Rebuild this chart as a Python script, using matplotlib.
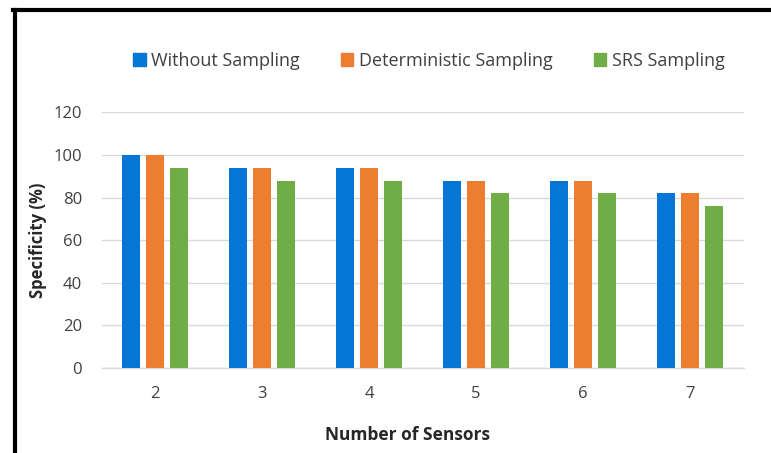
import matplotlib
matplotlib.use("Agg")
import matplotlib.pyplot as plt
from matplotlib.lines import Line2D
import numpy as np

categories = ["2", "3", "4", "5", "6", "7"]
without_sampling = [100, 94, 94, 88, 88, 82]
deterministic_sampling = [100, 94, 94, 88, 88, 82]
srs_sampling = [94, 88, 88, 82, 82, 76]
series_names = ["Without Sampling", "Deterministic Sampling", "SRS Sampling"]
colors = ["#0676d6", "#ed7d31", "#70ad47"]
yticks = [0, 20, 40, 60, 80, 100, 120]

plt.rcParams['font.family'] = ['Open Sans', 'DejaVu Sans']
W, H = 771, 453
fig = plt.figure(figsize=(W / 100, H / 100), dpi=100)
ax = fig.add_axes([101.5 / W, (H - 368) / H, (743.5 - 101.5) / W, (368 - 112.4) / H])

x = np.arange(len(categories))
width = 0.175
off = 0.224
series = [without_sampling, deterministic_sampling, srs_sampling]
for i, (vals, name, c) in enumerate(zip(series, series_names, colors)):
    ax.bar(x + (i - 1) * off, vals, width, color=c, label=name, zorder=3)

ax.set_xlim(-0.5, len(categories) - 0.5)
ax.set_ylim(0, 120)
ax.set_yticks(yticks)
ax.set_xticks(x)
ax.set_xticklabels(categories)
ax.grid(axis='y', color='#d9d9d9', linewidth=1, zorder=0)
for s in ['top', 'right', 'left']:
    ax.spines[s].set_visible(False)
ax.spines['bottom'].set_color('#d9d9d9')
ax.spines['bottom'].set_linewidth(1)
ax.tick_params(axis='both', length=0, labelsize=12, labelcolor='#404040')
ax.tick_params(axis='x', pad=13)
ax.tick_params(axis='y', pad=14)

ax.set_ylabel("Specificity (%)", fontsize=12, fontweight='bold', color='#262626', labelpad=4.5)
ax.set_xlabel("Number of Sensors", fontsize=12.5, fontweight='bold', color='#262626', labelpad=17.5)
ax.xaxis.label.set_x(0.4774)

handles = [plt.Rectangle((0, 0), 1, 1, color=c) for c in colors]
fig.legend(handles, series_names, loc='center', bbox_to_anchor=(429 / W, 1 - 61 / H),
           ncol=3, frameon=False, fontsize=13, handlelength=0.68, handleheight=0.68,
           handletextpad=0.3, columnspacing=2.3, labelcolor='#404040')

# outer frame (left and top edges)
fig.add_artist(Line2D([14.5 / W, 14.5 / W], [0, 1 - 10 / H], transform=fig.transFigure,
                      color='black', linewidth=3.0))
fig.add_artist(Line2D([13 / W, 1], [1 - 10 / H, 1 - 10 / H], transform=fig.transFigure,
                      color='black', linewidth=3.0))

fig.savefig("out.png", dpi=100)
